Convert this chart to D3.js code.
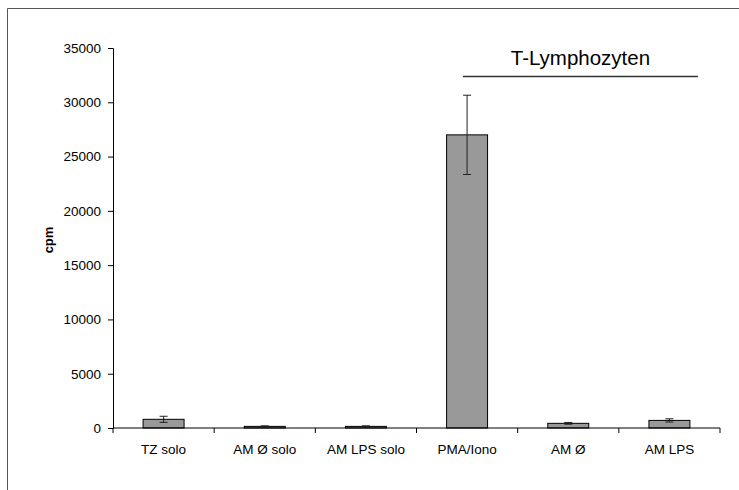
<!DOCTYPE html>
<html><head><meta charset="utf-8">
<script src="https://cdn.jsdelivr.net/npm/d3@7"></script>
<style>
body{margin:0;background:#fff;}
text{font-family:"Liberation Sans",Arial,sans-serif;fill:#000;}
</style></head>
<body>
<svg id="c" width="739" height="490"></svg>
<script>
const categories = ["TZ solo","AM Ø solo","AM LPS solo","PMA/Iono","AM Ø","AM LPS"];
const values = [800, 150, 150, 27000, 430, 700];
const errors = [280, 50, 50, 3650, 80, 150];
const yTicks = [0,5000,10000,15000,20000,25000,30000,35000];
const groupLabel = "T-Lymphozyten";
const groupFrom = "PMA/Iono", groupTo = "AM LPS";
const yLabel = "cpm";

(function(){
const svg = d3.select("#c");
// outer frame
svg.append("path").attr("d","M7.5,490 V8.5 H739").attr("fill","none").attr("stroke","#555").attr("stroke-width",1);

const pLeft=113, pRight=720, pTop=48, pBottom=428;
const x = d3.scaleBand().domain(categories).range([pLeft,pRight]).paddingInner(0.595).paddingOuter(0.2975);
const y = d3.scaleLinear().domain([0,35000]).range([pBottom,pTop]);

// y axis
const ya = svg.append("g").attr("transform",`translate(${pLeft},0)`)
  .call(d3.axisLeft(y).tickValues(yTicks).tickSize(5).tickPadding(7).tickFormat(d3.format("d")));
ya.select(".domain").attr("stroke","#000");
ya.selectAll(".tick line").attr("stroke","#000");
ya.selectAll(".tick text").style("font-size","13.5px").attr("fill","#000");

// bars
svg.selectAll("rect.bar").data(categories).join("rect").attr("class","bar")
  .attr("x",d=>x(d)).attr("width",x.bandwidth())
  .attr("y",(d,i)=>y(values[i])).attr("height",(d,i)=>y(0)-y(values[i]))
  .attr("fill","#999999").attr("stroke","#000").attr("stroke-width",1);

// error bars
const eg = svg.append("g").attr("stroke","#222").attr("stroke-width",1);
categories.forEach((c,i)=>{
  const cx = x(c)+x.bandwidth()/2;
  const y1=y(values[i]+errors[i]), y2=y(values[i]-errors[i]);
  eg.append("line").attr("x1",cx).attr("x2",cx).attr("y1",y1).attr("y2",y2);
  eg.append("line").attr("x1",cx-4).attr("x2",cx+4).attr("y1",y1).attr("y2",y1);
  eg.append("line").attr("x1",cx-4).attr("x2",cx+4).attr("y1",y2).attr("y2",y2);
});

// x axis (ticks at category boundaries)
const xa = svg.append("g").attr("transform",`translate(0,${pBottom})`);
xa.append("line").attr("x1",pLeft).attr("x2",pRight).attr("y1",0).attr("y2",0).attr("stroke","#000");
const bounds = categories.map(c=>x(c)-x.step()*x.paddingInner()/2).concat([pRight]);
xa.selectAll("line.tk").data(bounds).join("line").attr("class","tk")
  .attr("x1",d=>d).attr("x2",d=>d).attr("y1",0).attr("y2",5).attr("stroke","#000");
xa.selectAll("text").data(categories).join("text")
  .attr("x",d=>x(d)+x.bandwidth()/2).attr("y",16).attr("dy","0.71em")
  .attr("text-anchor","middle").style("font-size","13.5px").text(d=>d);

// y label
svg.append("text").attr("transform","translate(53,240) rotate(-90)")
  .attr("text-anchor","middle").style("font-size","13px").style("font-weight","bold").text(yLabel);

// group annotation
const gx1 = x(groupFrom)+x.bandwidth()*0.4, gx2 = x(groupTo)+x.bandwidth()+8;
svg.append("line").attr("x1",gx1).attr("x2",gx2).attr("y1",76.5).attr("y2",76.5).attr("stroke","#333").attr("stroke-width",1.3);
svg.append("text").attr("x",(gx1+gx2)/2).attr("y",65).attr("text-anchor","middle")
  .style("font-size","20.5px").text(groupLabel);
})();
</script>
</body></html>
